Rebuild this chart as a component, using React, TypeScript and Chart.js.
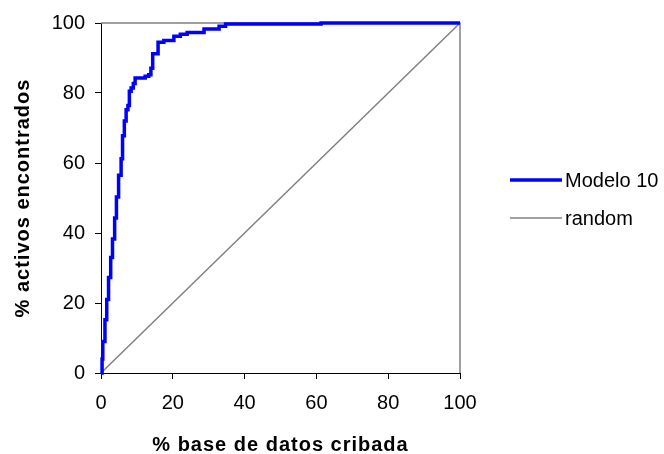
import React, { useEffect, useRef } from 'react';
import { Chart, registerables } from 'chart.js';

Chart.register(...registerables);

const FONT = '"Liberation Sans", Arial, sans-serif';

// Step-curve points for "Modelo 10": x where the curve rises, y reached
const modelX = [0, 0.3, 0.5, 1.1, 1.6, 2.1, 2.7, 3.2, 3.8, 4.3, 4.9, 5.6, 6.0, 6.5, 7.0, 7.5, 7.9, 8.4, 9.0, 9.5, 12.3, 13.3, 13.9, 14.4, 15.9, 17.5, 20.3, 22.1, 24.0, 28.7, 32.9, 34.7, 61.3, 100];
const modelY = [0, 4, 9, 15.2, 21, 27.3, 33, 38.3, 44.3, 50.3, 56.5, 61.2, 67.8, 72, 75.2, 76.4, 80.5, 81.4, 82.7, 84.3, 84.8, 85.2, 87.1, 91.2, 94.5, 95, 96.2, 96.8, 97.3, 98.3, 99.1, 99.7, 100, 100];

const randomX = [0, 100];
const randomY = [0, 100];

const seriesNames = ['Modelo 10', 'random'];
const seriesColors = ['#0000FF', '#808080'];
const xTitle = '% base de datos cribada';
const yTitle = '% activos encontrados';

const extrasPlugin = {
  id: 'extras',
  beforeDatasetsDraw(chart: any) {
    const { ctx, chartArea } = chart;
    ctx.save();
    ctx.strokeStyle = '#808080';
    ctx.lineWidth = 1.5;
    ctx.beginPath();
    ctx.moveTo(chartArea.left, chartArea.top);
    ctx.lineTo(chartArea.right, chartArea.top);
    ctx.lineTo(chartArea.right, chartArea.bottom);
    ctx.stroke();
    ctx.restore();
  },
  afterDraw(chart: any) {
    const { ctx, chartArea } = chart;
    ctx.save();
    ctx.fillStyle = '#000';
    ctx.font = `bold 20px ${FONT}`;
    try { (ctx as any).letterSpacing = '1px'; } catch (e) {}
    ctx.textAlign = 'center';
    ctx.textBaseline = 'middle';
    const cx = (chartArea.left + chartArea.right) / 2;
    ctx.fillText(xTitle, cx, 445);
    ctx.translate(23, (chartArea.top + chartArea.bottom) / 2);
    ctx.rotate(-Math.PI / 2);
    ctx.fillText(yTitle, 0, 0);
    ctx.restore();

    // legend
    ctx.save();
    const rows = [180, 218];
    const widths = [3.5, 1.5];
    seriesNames.forEach((name, i) => {
      ctx.strokeStyle = seriesColors[i];
      ctx.lineWidth = widths[i];
      ctx.beginPath();
      ctx.moveTo(510, rows[i]);
      ctx.lineTo(562, rows[i]);
      ctx.stroke();
      ctx.fillStyle = '#000';
      ctx.font = `20px ${FONT}`;
      ctx.textAlign = 'left';
      ctx.textBaseline = 'middle';
      ctx.fillText(name, 565, rows[i] + 1);
    });
    ctx.restore();
  },
};

export default function App() {
  const canvasRef = useRef<HTMLCanvasElement | null>(null);

  useEffect(() => {
    if (!canvasRef.current) return;
    const chart = new Chart(canvasRef.current, {
      type: 'line',
      data: {
        datasets: [
          {
            label: seriesNames[1],
            data: randomX.map((x, i) => ({ x, y: randomY[i] })),
            borderColor: seriesColors[1],
            borderWidth: 1.5,
            pointRadius: 0,
            fill: false,
            clip: false as any,
            order: 2,
          },
          {
            label: seriesNames[0],
            data: modelX.map((x, i) => ({ x, y: modelY[i] })),
            borderColor: seriesColors[0],
            borderWidth: 3.5,
            pointRadius: 0,
            stepped: true,
            fill: false,
            clip: false as any,
            order: 1,
          },
        ],
      },
      options: {
        responsive: false,
        animation: false,
        layout: { padding: { top: 23, right: 204, left: 0, bottom: 0 } },
        plugins: { legend: { display: false }, tooltip: { enabled: false } },
        scales: {
          x: {
            type: 'linear',
            min: 0,
            max: 100,
            ticks: { stepSize: 20, color: '#000', font: { family: FONT, size: 20 }, padding: 12, maxRotation: 0 },
            grid: { drawOnChartArea: false, color: '#000', tickColor: '#000', tickLength: 6 },
            border: { color: '#000', width: 1 },
            afterFit: (s: any) => { s.height = 454 - 373; },
          },
          y: {
            type: 'linear',
            min: 0,
            max: 100,
            ticks: { stepSize: 20, color: '#000', font: { family: FONT, size: 20 }, padding: 10 },
            grid: { drawOnChartArea: false, color: '#000', tickColor: '#000', tickLength: 6 },
            border: { color: '#000', width: 1 },
            afterFit: (s: any) => { s.width = 101; },
          },
        },
      },
      plugins: [extrasPlugin],
    });
    return () => chart.destroy();
  }, []);

  return (
    <div style={{ position: 'absolute', left: 0, top: 0, width: 664, height: 454, background: '#fff' }}>
      <canvas ref={canvasRef} width={664} height={454} style={{ display: 'block' }} />
    </div>
  );
}
